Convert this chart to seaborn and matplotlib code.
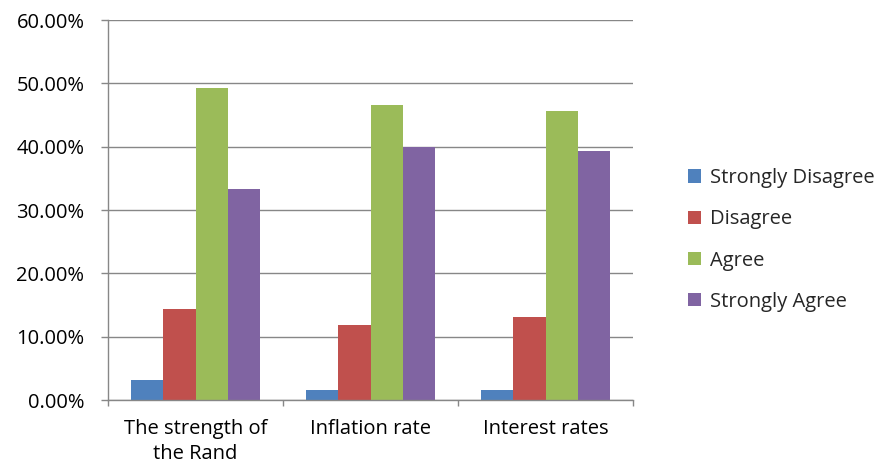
import matplotlib
matplotlib.use("Agg")
import matplotlib.pyplot as plt
import seaborn as sns
import pandas as pd
from matplotlib.ticker import FuncFormatter, FixedLocator

categories = ["The strength of\nthe Rand", "Inflation rate", "Interest rates"]
series = ["Strongly Disagree", "Disagree", "Agree", "Strongly Agree"]
strongly_disagree = [0.0314, 0.0157, 0.0157]
disagree = [0.143, 0.118, 0.1305]
agree = [0.492, 0.465, 0.457]
strongly_agree = [0.333, 0.399, 0.393]
colors = ["#4F81BD", "#C0504D", "#9BBB59", "#8064A2"]
yticks = [0.0, 0.1, 0.2, 0.3, 0.4, 0.5, 0.6]

rows = []
for name, vals in zip(series, [strongly_disagree, disagree, agree, strongly_agree]):
    for c, v in zip(categories, vals):
        rows.append({"Category": c, "Response": name, "Value": v})
df = pd.DataFrame(rows)

sns.set_theme(style="white")
plt.rcParams['font.family'] = ['Open Sans', 'DejaVu Sans']

fig = plt.figure(figsize=(8.77, 4.68), dpi=100)
ax = fig.add_axes([108/877, 68/468, 525/877, 380/468])

sns.barplot(data=df, x="Category", y="Value", hue="Response", order=categories,
            hue_order=series, palette=colors, width=0.74, saturation=1,
            edgecolor="none", linewidth=0, ax=ax, legend=True)

ax.set_ylim(0, 0.6)
ax.set_xlim(-0.5, 2.5)
ax.yaxis.set_major_locator(FixedLocator(yticks))
ax.yaxis.set_major_formatter(FuncFormatter(lambda v, p: f"{v*100:.2f}%"))
ax.grid(axis="y", color="#878787", linewidth=1.0)
ax.set_axisbelow(True)
ax.set_xlabel("")
ax.set_ylabel("")

for s in ["top", "right"]:
    ax.spines[s].set_visible(False)
for s in ["left", "bottom"]:
    ax.spines[s].set_color("#878787")
    ax.spines[s].set_linewidth(1.0)

ax.tick_params(axis="y", which="major", left=True, length=5, width=1.0,
               color="#878787", labelsize=14.5, labelcolor="#000000", pad=12)
ax.tick_params(axis="x", which="major", length=0, labelsize=14.5,
               labelcolor="#000000", pad=14)
ax.xaxis.set_minor_locator(FixedLocator([-0.5, 0.5, 1.5, 2.5]))
ax.tick_params(axis="x", which="minor", bottom=True, length=4.5, width=1.0,
               color="#878787")
for lbl in ax.get_xticklabels():
    lbl.set_linespacing(1.32)

handles, labels = ax.get_legend_handles_labels()
ax.legend_.remove()
fig.legend(handles, labels, loc="center left", bbox_to_anchor=(670/877, 228/468),
           frameon=False, fontsize=14.5, handlelength=0.65, handleheight=0.65,
           handletextpad=0.45, labelspacing=1.05)

fig.savefig("out.png", dpi=100)
